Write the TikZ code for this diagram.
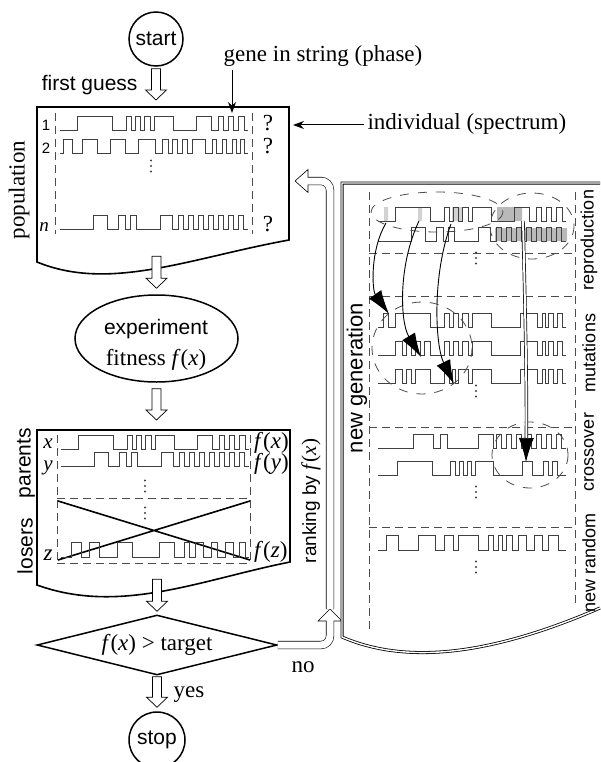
\documentclass[tikz,border=0pt]{standalone}
\usepackage{fontspec}
\setmainfont{Liberation Serif}
\setsansfont{Liberation Sans}
\usetikzlibrary{shapes.geometric,arrows.meta,calc}
\newcommand\fof[1]{\textit{f}(\textit{#1})}
\newcommand\gsx{17/52,66/71,75/80,84/90,94/113,136/151,158/163,168/173,178/184}
\newcommand\gsy{33/47,58/65,70/76,100/112,118/123,128/133,138/143,148/153,158/163,168/173,178/183}
\newcommand\gstwo{3/12,22/37,50/65,78/95,102/108,112/117,122/127,132/145,152/156,162/166,172/176,180/184}
\newcommand\gsz{10/20,28/38,56/71,98/113,123/128,134/142,150/156,164/172,178/184}
\newcommand\gsma{5/10,17/52,66/71,75/80,84/90,94/113,142/159,164/167,170/175,179/184}
\newcommand\gsmb{17/24,28/33,37/42,46/52,66/71,75/80,84/90,94/113,142/159,164/167,170/175,179/184}
\newcommand\gsmc{17/24,28/33,37/52,66/71,74/77,80/90,94/113,142/159,164/167,170/175,179/184}
\newcommand\gsca{35/55,62/69,100/115,118/123,128/133,138/143,148/153,158/163,168/173,178/183}
\newcommand\gscb{19/54,72/77,81/85,89/93,97/115,144/154,165/170,174/179}
\newcommand\gsr{8/20,40/57,66/75,80/100,110/115,120/124,128/134,140/148,156/164,170/180}
\newcommand\gwave[4]{\draw[wave] (#1,#2) \foreach \a/\b in #4 {-- (#1+\a,#2) -- (#1+\a,#2-#3) -- (#1+\b,#2-#3) -- (#1+\b,#2)} -- (#1+188,#2);}
\newcommand\vdts[2]{\fill[black!75] (#1,#2-5.5) circle (1.2) (#1,#2) circle (1.2) (#1,#2+5.5) circle (1.2);}
\newcommand\hdn[2]{\draw[hollowln] let \p1=(#1), \p2=(#2) in (\x1-4.5pt,\y1) -- (\x1-4.5pt,\y2+10pt) -- (\x1-10.5pt,\y2+10pt) -- (\x1,\y2) -- (\x1+10.5pt,\y2+10pt) -- (\x1+4.5pt,\y2+10pt) -- (\x1+4.5pt,\y1) -- cycle;}
\begin{document}
\begin{tikzpicture}[x=1pt,y=-1pt,
  box/.style={line width=1.6pt},
  wave/.style={line width=0.8pt,black!75},
  dashln/.style={dash pattern=on 8pt off 5pt,line width=0.9pt,black!70},
  grp/.style={dash pattern=on 9pt off 9pt,line width=0.8pt,black!70},
  hollowln/.style={line width=0.7pt,fill=white},
  hollow/.style={line width=0.6pt,double distance=7pt},
  ptr/.style={-{Stealth[length=11pt,width=8pt]},line width=1pt},
  swoop/.style={line width=0.9pt,-{Latex[length=24pt,width=15pt]}},
  big/.style={font=\fontsize{23}{26}\selectfont},
  sans/.style={font=\sffamily\fontsize{21}{24}\selectfont},
  small/.style={font=\sffamily\fontsize{18}{20}\selectfont}]
\useasboundingbox (0,0) rectangle (600,762);

\node[circle,draw,line width=1.5pt,minimum size=54pt,inner sep=0pt,sans] (start) at (156,39) {start};
\coordinate (poptop) at (156,107);
\hdn{$(start.south)+(0,2)$}{$(poptop)+(0,-7)$}
\node[sans,anchor=base east] (guess) at (141,91) {first guess};
\node[big,anchor=base] (gene) at (323,62) {gene in string (phase)};
\coordinate (genetip) at (232,113);
\draw[ptr] (gene.south -| genetip) -- (genetip);
\node[big,anchor=base west] (indiv) at (364,130) {individual (spectrum)};
\coordinate (indtip) at (293,125);
\draw[ptr] (indiv.west |- indtip) -- (indtip);

\draw[box] (37,107) -- (289,107) -- (289,240) .. controls (190,258) and (110,292) .. (37,262) -- cycle;
\node[big,rotate=90] (poplab) at (19,190) {population};
\draw[dashln] (55,113) -- (55,234) (252,113) -- (252,234);
\gwave{60}{130}{14}{\gsx}
\gwave{60}{153}{14}{\gstwo}
\gwave{60}{229}{14}{\gsy}
\node[font=\sffamily\fontsize{15}{16}\selectfont,anchor=base] (r1) at (46,131) {1};
\node[font=\sffamily\fontsize{15}{16}\selectfont,anchor=base] (r2) at (46,154) {2};
\node[font=\fontsize{19}{20}\selectfont\itshape,anchor=base] (rn) at (44,231) {n};
\node[big,anchor=base] (q1) at (268,131) {?};
\node[big,anchor=base] (q2) at (268,154) {?};
\node[big,anchor=base] (qn) at (268,231) {?};
\vdts{151}{166}

\node[ellipse,draw,line width=1.5pt,minimum width=163pt,minimum height=87pt] (exp) at (156.5,338.5) {};
\hdn{$(exp.north)+(0,-38)$}{$(exp.north)+(0,-6)$}
\node[sans,anchor=base] (exptxt) at (156,334) {experiment};
\node[big,anchor=base] (fittxt) at (156,365) {fitness \fof{x}};
\coordinate (partop) at (156,430);
\hdn{$(exp.south)+(0,6)$}{$(partop)+(0,-10)$}

\draw[box] (37,430) -- (290,430) -- (290,562) .. controls (200,580) and (120,615) .. (37,585) -- cycle;
\draw[dashln] (57,435) -- (57,563) (250,435) -- (250,563) (57,498) -- (250,498) (57,563) -- (250,563);
\draw[box] (58,501) -- (250,560) (58,560) -- (250,501);
\gwave{61}{449}{14}{\gsx}
\gwave{61}{466}{14}{\gsy}
\gwave{61}{557}{15}{\gsz}
\node[font=\fontsize{21}{22}\selectfont,anchor=base,inner sep=0pt] (lx) at (48,448) {\textit{x}};
\node[font=\fontsize{21}{22}\selectfont,anchor=base,inner sep=0pt] (ly) at (48,470) {\textit{y}};
\node[big,anchor=base,inner sep=0pt] (lz) at (48,560) {\textit{z}};
\node[big,anchor=base west,inner sep=0pt] (fx) at (254,448.5) {\fof{x}};
\node[big,anchor=base west,inner sep=0pt] (fy) at (254,469.5) {\fof{y}};
\node[big,anchor=base west,inner sep=0pt] (fz) at (254,557) {\fof{z}};
\vdts{145}{486}
\vdts{145}{513}
\node[sans,rotate=90] (parlab) at (26,463) {parents};
\node[sans,rotate=90] (loslab) at (25,546) {losers};

\node[diamond,draw,line width=1.5pt,aspect=4,minimum width=240pt,minimum height=60pt,inner sep=0pt,big] (dia) at (157,645) {\fof{x} > target};
\hdn{$(dia.north)+(0,-35)$}{$(dia.north)+(0,-3)$}
\node[circle,draw,line width=1.5pt,minimum size=56pt,inner sep=0pt,sans] (stop) at (157,740) {stop};
\hdn{$(dia.south)+(0,1)$}{$(stop.north)+(0,-4)$}
\node[big,anchor=base] (yes) at (189,697) {yes};
\node[big,anchor=base] (no) at (303,672) {no};

\coordinate (nohead) at (330,621);
\coordinate (notip) at (330,609);
\draw[hollow,rounded corners=9pt] (dia.east) -- (nohead |- dia.east) -- (nohead);
\draw[fill=white,line width=0.6pt] ($(nohead)+(-3.5,0)$) -- ++(-8.5,0) -- (notip) -- ($(nohead)+(12,0)$) -- ++(-8.5,0);
\coordinate (rkhead) at (308,181);
\coordinate (rktip) at (295,181);
\draw[hollow,rounded corners=9pt] (notip) -- (notip |- rkhead) -- (rkhead);
\draw[fill=white,line width=0.6pt] ($(rkhead)+(0,-3.5)$) -- ++(0,-8) -- (rktip) -- ($(rkhead)+(0,11.5)$) -- ++(0,-8);
\node[rotate=90] (rank) at (311,501) {\sffamily\fontsize{19}{22}\selectfont ranking by {\rmfamily\fontsize{21}{24}\selectfont\fof{x}}};

\draw[line width=0.8pt,double,double distance=1.4pt] (600,183) -- (342,183) -- (342,637) .. controls (400,662) and (480,660) .. (600,608);
\node[font=\sffamily\fontsize{22}{24}\selectfont,rotate=90] (newgen) at (357,378) {new generation};
\draw[dashln] (369,192) -- (369,630) (575,192) -- (575,607);
\draw[dashln] (369,253) -- (575,253) (369,296) -- (575,296) (369,427) -- (575,427) (369,527) -- (575,527);
\fill[gray!55] (497,207) rectangle (522,221) (495,228) rectangle (567,241);
\fill[gray!35] (384,207) rectangle (388,221) (418,207) rectangle (422,221) (452,207) rectangle (462,221);
\gwave{378}{221}{14}{\gsx}
\gwave{378}{241}{14}{\gsy}
\gwave{378}{327}{14}{\gsma}
\gwave{378}{355}{14}{\gsmb}
\gwave{378}{383}{14}{\gsmc}
\gwave{378}{448}{14}{\gsca}
\gwave{378}{475}{14}{\gscb}
\gwave{378}{550}{15}{\gsr}
\vdts{476}{258}
\vdts{476}{391}
\vdts{476}{492}
\vdts{476}{567}
\draw[grp] (437,212) ellipse [x radius=66,y radius=20];
\draw[grp] (532,226) ellipse [x radius=42,y radius=33];
\draw[grp] (422,348) ellipse [x radius=50,y radius=46];
\draw[grp] (530,455) ellipse [x radius=38,y radius=33];
\draw[swoop] (386,223) .. controls (370,250) and (372,290) .. (389,314);
\draw[swoop] (419,221) .. controls (398,265) and (400,322) .. (421,357);
\draw[swoop] (451,224) .. controls (432,275) and (435,345) .. (454,384);
\draw[line width=0.7pt,double,double distance=2pt,-{Latex[length=24pt,width=15pt]}] (523,221) .. controls (525,300) and (527,390) .. (526,462);
\node[small,rotate=90] (lrep) at (589,240) {reproduction};
\node[small,rotate=90] (lmut) at (589,353) {mutations};
\node[small,rotate=90] (lcro) at (589,452) {crossover};
\node[small,rotate=90] (lran) at (589,563) {new random};
\end{tikzpicture}
\end{document}
